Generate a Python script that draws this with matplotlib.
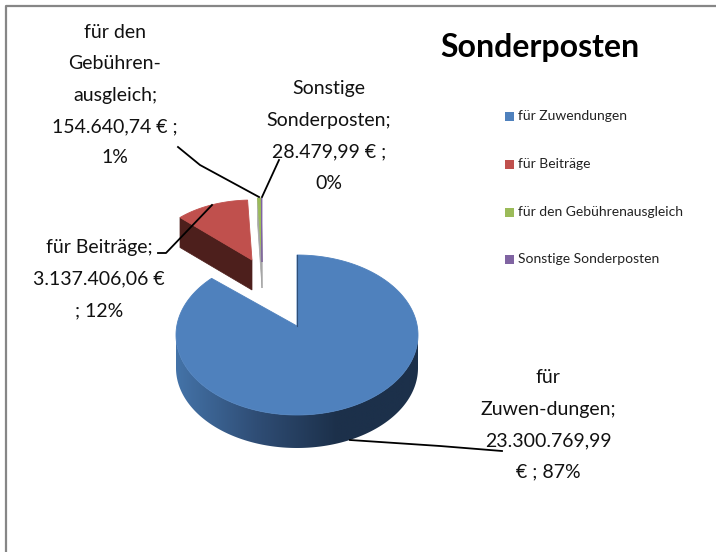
#!/usr/bin/env python3
"""Sonderposten: exploded 3D style pie with data labels and legend"""

import numpy as np
import matplotlib.pyplot as plt
from matplotlib.colors import LinearSegmentedColormap
from matplotlib.patches import Polygon, Rectangle

plt.rcParams['font.family'] = ['Lato', 'DejaVu Sans']

categories = ['für Zuwendungen', 'für Beiträge', 'für den Gebührenausgleich', 'Sonstige Sonderposten']
values = [23300769.99, 3137406.06, 154640.74, 28479.99]
top_colors = ['#4f81bd', '#c0504d', '#9bbb59', '#8064a2']
side_colors = ['#2f4f78', '#4d1f1c', '#a6a6a6', '#a6a6a6']
data_labels = [
    'für\nZuwen-dungen;\n23.300.769,99\n€ ; 87%',
    'für Beiträge;\n3.137.406,06 €\n; 12%',
    'für den\nGebühren-\nausgleich;\n154.640,74 € ;\n1%',
    'Sonstige\nSonderposten;\n28.479,99 € ;\n0%',
]
label_pos = [(548, 425), (99, 279), (115, 95), (329, 136)]

# pie geometry in pixels: apex x/y, ellipse centre y, rx, ry, depth
slice_geom = [
    (297, 326, 335, 121, 80, 33),
    (252, 260, 260, 102, 60, 30),
    (262, 262, 262, 102, 64, 26),
    (262, 262, 262, 102, 64, 26),
]


def ell(theta, g):
    return g[0] + g[3] * np.sin(theta), g[2] - g[4] * np.cos(theta)


def wedge(a0, a1, g):
    th = np.linspace(a0, a1, 200)
    x, y = ell(th, g)
    return np.column_stack([np.r_[g[0], x], np.r_[g[1], y]])


fig = plt.figure(figsize=(7.16, 5.52), dpi=100)
ax = fig.add_axes([0, 0, 1, 1])

# chart border
ax.plot([6, 6, 716], [552, 6, 6], color='#868686', linewidth=1.6)

fractions = np.array(values) / sum(values)
edges = np.r_[0, np.cumsum(fractions)] * 2 * np.pi

# back slices first
for i in [1, 2, 3]:
    g = slice_geom[i]
    a0, a1 = edges[i], edges[i + 1]
    x0, y0 = ell(a0, g)
    ax.add_patch(Polygon([(x0, y0), (g[0], g[1]), (g[0], g[1] + g[5]), (x0, y0 + g[5])],
                         facecolor=side_colors[i], edgecolor=side_colors[i], linewidth=0.5, zorder=2))
    ax.add_patch(Polygon(wedge(a0, a1, g), facecolor=top_colors[i],
                         edgecolor=top_colors[i], linewidth=0.6, zorder=3))

# blue slice: side wall as a horizontal gradient clipped to the rim, then the top
g = slice_geom[0]
steps = np.linspace(np.pi / 2, 3 * np.pi / 2, 200)
rim_x, rim_y = ell(steps, g)
rim = np.column_stack([np.r_[rim_x, rim_x[::-1]], np.r_[rim_y, rim_y[::-1] + g[5]]])
wall = Polygon(rim, facecolor='none', edgecolor='none', transform=ax.transData)
ax.add_patch(wall)
side_cmap = LinearSegmentedColormap.from_list('side', ['#4473a8', '#2f4d75', '#1c304a', '#1c304a'])
img = ax.imshow(np.linspace(0, 1, 256)[None, :], cmap=side_cmap, aspect='auto',
                extent=(g[0] - g[3], g[0] + g[3], g[2] + g[4] + g[5], g[2]), zorder=4)
img.set_clip_path(wall)
ax.add_patch(Polygon(wedge(edges[0], edges[1], g), facecolor=top_colors[0],
                     edgecolor=top_colors[0], linewidth=0.6, zorder=5))
ax.plot([g[0], g[0]], [g[2] - g[4], g[1]], color=side_colors[0], linewidth=0.8, zorder=5)

# leader lines
leader_x = [[350, 440, 502], [212, 166, 158], [178, 200, 259], [279, 262]]
leader_y = [[440, 446, 451], [205, 253, 253], [147, 165, 197], [160, 197]]
for lx, ly in zip(leader_x, leader_y):
    ax.plot(lx, ly, color='black', linewidth=1.3, zorder=6)

for txt, (x, y) in zip(data_labels, label_pos):
    ax.text(x, y, txt, ha='center', va='center', fontsize=14, linespacing=2.03,
            color='#111111', zorder=7)

ax.text(540, 48, 'Sonderposten', ha='center', va='center', fontsize=23,
        fontweight='bold', color='black')

# legend
legend_y = [116, 164, 212, 259]
for name, col, y in zip(categories, top_colors, legend_y):
    ax.add_patch(Rectangle((505, y - 4.5), 9, 9, facecolor=col, edgecolor='none'))
    ax.text(518, y, name, ha='left', va='center', fontsize=10, color='#222222')

ax.set_xlim(0, 716)
ax.set_ylim(552, 0)
ax.axis('off')

fig.savefig('out.png', dpi=100)
